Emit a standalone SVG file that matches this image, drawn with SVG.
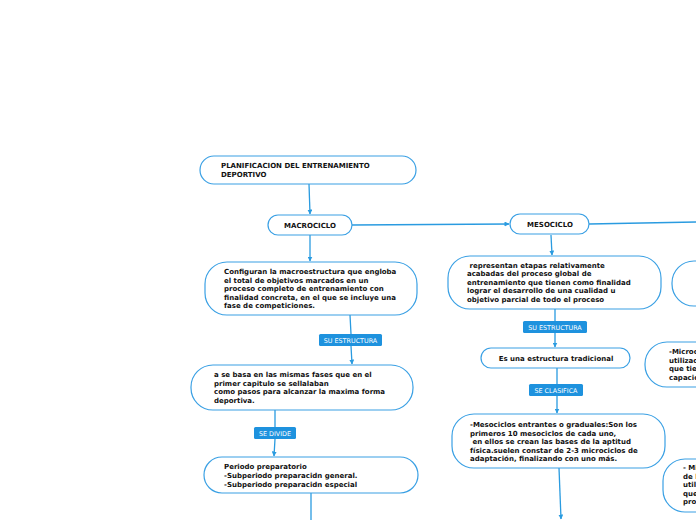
<svg xmlns="http://www.w3.org/2000/svg" width="696" height="520" viewBox="0 0 696 520">
<defs>
<marker id="ah" viewBox="0 0 10 10" refX="9" refY="5" markerWidth="5" markerHeight="5" orient="auto" markerUnits="userSpaceOnUse">
<path d="M0,0 L10,5 L0,10 z" fill="#2a9be0"/>
</marker>
<style>
.node{fill:#fff;stroke:#3aa0e4;stroke-width:1.2}
.t{font-family:"DejaVu Sans",Verdana,sans-serif;font-size:7px;font-weight:bold;fill:#111}
.c{stroke:#2a9be0;stroke-width:1.3;fill:none}
.lb{fill:#1e92de}
.lt{font-family:"DejaVu Sans",Verdana,sans-serif;font-size:6.4px;fill:#fff;text-anchor:middle}
</style>
</defs>
<rect width="696" height="520" fill="#fff"/>
<g id="connectors">
<path class="c" d="M309,184 L310,214" marker-end="url(#ah)"/>
<path class="c" d="M310,235 L310,261" marker-end="url(#ah)"/>
<path class="c" d="M352,225 L509,224" marker-end="url(#ah)"/>
<path class="c" d="M589,224 L696,222"/>
<path class="c" d="M350,315 L351,334 M351,346 L352,364" marker-end="url(#ah)"/>
<path class="c" d="M275,410 L275,427 M275,439 L274,456" marker-end="url(#ah)"/>
<path class="c" d="M311,493 L311,520"/>
<path class="c" d="M551,235 L552,255" marker-end="url(#ah)"/>
<path class="c" d="M555,309 L555,321 M555,333 L555,347" marker-end="url(#ah)"/>
<path class="c" d="M557,368 L557,384 M557,396 L557,413" marker-end="url(#ah)"/>
<path class="c" d="M559,468 L561,519" marker-end="url(#ah)"/>
</g>
<g id="lbl-su-estructura-1"><rect class="lb" x="319" y="334" width="63" height="12" rx="1.5"/><text class="lt" x="350.5" y="342.5">SU ESTRUCTURA</text></g>
<g id="lbl-se-divide"><rect class="lb" x="254" y="427" width="42" height="12" rx="1.5"/><text class="lt" x="275" y="435.5">SE DIVIDE</text></g>
<g id="lbl-su-estructura-2"><rect class="lb" x="523" y="321" width="64" height="12" rx="1.5"/><text class="lt" x="555" y="329.5">SU ESTRUCTURA</text></g>
<g id="lbl-se-clasifica"><rect class="lb" x="529" y="384" width="54" height="12" rx="1.5"/><text class="lt" x="556" y="392.5">SE CLASIFICA</text></g>
<g id="n-title"><rect class="node" x="200" y="156" width="216" height="28" rx="14"/>
<text class="t" x="221" y="167.5">PLANIFICACION DEL ENTRENAMIENTO</text><text class="t" x="221" y="177">DEPORTIVO</text></g>
<g id="n-macrociclo"><rect class="node" x="268" y="215" width="84" height="20" rx="10"/>
<text class="t" x="310" y="228" text-anchor="middle">MACROCICLO</text></g>
<g id="n-configuran"><rect class="node" x="205" y="262" width="212" height="53" rx="22"/>
<text class="t" x="224" y="274">Configuran la macroestructura que engloba</text>
<text class="t" x="224" y="282.5">el total de objetivos marcados en un</text>
<text class="t" x="224" y="291">proceso completo de entrenamiento con</text>
<text class="t" x="224" y="299.5">finalidad concreta, en el que se incluye una</text>
<text class="t" x="224" y="308">fase de competiciones.</text></g>
<g id="n-basa"><rect class="node" x="191" y="365" width="222" height="45" rx="22"/>
<text class="t" x="214" y="377">a se basa en las mismas fases que en el</text>
<text class="t" x="214" y="385.5">primer capitulo se sellalaban</text>
<text class="t" x="214" y="394">como pasos para alcanzar la maxima forma</text>
<text class="t" x="214" y="402.5">deportiva.</text></g>
<g id="n-periodo"><rect class="node" x="204" y="457" width="214" height="36" rx="18"/>
<text class="t" x="224" y="468.5">Periodo preparatorio</text>
<text class="t" x="224" y="477.5">-Subperiodo preparacidn general.</text>
<text class="t" x="224" y="486.5">-Subperiodo preparacidn especial</text></g>
<g id="n-mesociclo"><rect class="node" x="510" y="214" width="79" height="20" rx="10"/>
<text class="t" x="550" y="227" text-anchor="middle">MESOCICLO</text></g>
<g id="n-representan"><rect class="node" x="448" y="256" width="213" height="53" rx="22"/>
<text class="t" x="467" y="267.5" xml:space="preserve"> representan etapas relativamente</text>
<text class="t" x="467" y="276">acabadas del proceso global de</text>
<text class="t" x="467" y="284.5">entrenamiento que tienen como finalidad</text>
<text class="t" x="467" y="293">lograr el desarrollo de una cualidad u</text>
<text class="t" x="467" y="301.5">objetivo parcial de todo el proceso</text></g>
<g id="n-es-una"><rect class="node" x="481" y="348" width="149" height="20" rx="10"/>
<text class="t" x="556" y="361" text-anchor="middle">Es una estructura tradicional</text></g>
<g id="n-mesociclos-entrantes"><rect class="node" x="452" y="414" width="213" height="54" rx="22"/>
<text class="t" x="470" y="427">-Mesociclos entrantes o graduales:Son los</text>
<text class="t" x="470" y="435.5">primeros 10 mesociclos de cada uno,</text>
<text class="t" x="470" y="444" xml:space="preserve"> en ellos se crean las bases de la aptitud</text>
<text class="t" x="470" y="452.5">física.suelen constar de 2-3 microciclos de</text>
<text class="t" x="470" y="461">adaptación, finalizando con uno más.</text></g>
<g id="n-right-1"><rect class="node" x="672" y="261" width="80" height="45" rx="22"/></g>
<g id="n-right-2"><rect class="node" x="645" y="342" width="100" height="45" rx="22"/>
<text class="t" x="669" y="354">-Microc</text>
<text class="t" x="669" y="362.5">utilizac</text>
<text class="t" x="669" y="371">que tie</text>
<text class="t" x="669" y="379.5">capacio</text></g>
<g id="n-right-3"><rect class="node" x="663" y="459" width="100" height="53" rx="22"/>
<text class="t" x="683" y="470">- Mi</text>
<text class="t" x="683" y="478.5">de l</text>
<text class="t" x="683" y="487">utili</text>
<text class="t" x="683" y="495.5">que</text>
<text class="t" x="683" y="504">pro</text></g>
</svg>
